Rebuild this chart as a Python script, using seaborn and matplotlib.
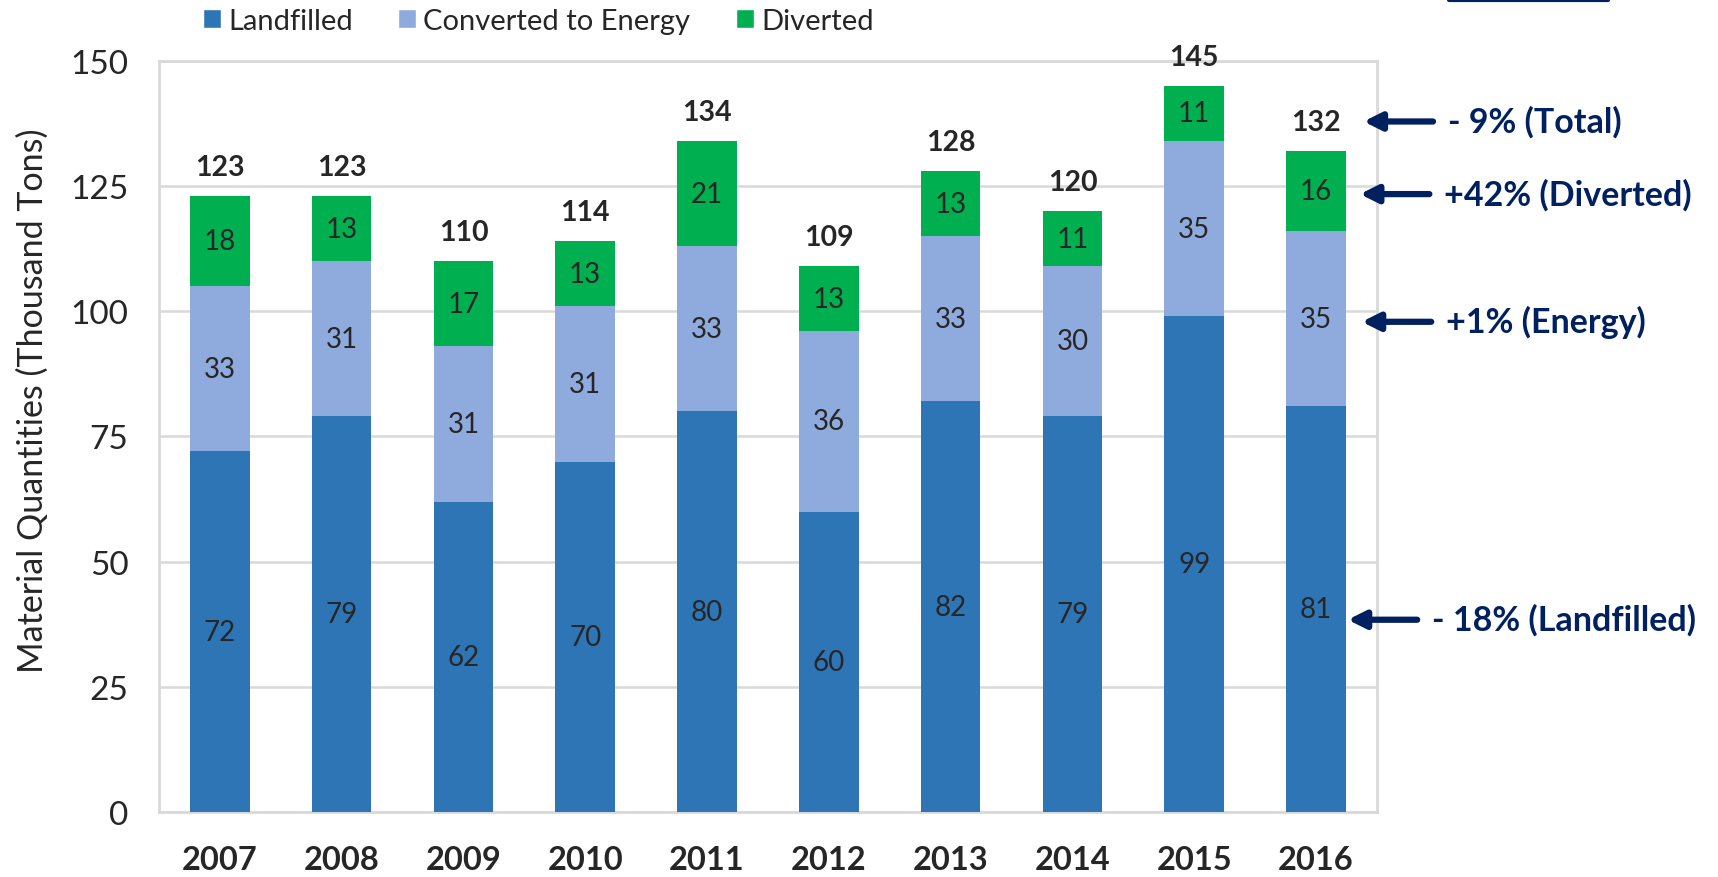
import matplotlib
matplotlib.use("Agg")
import matplotlib.pyplot as plt
import seaborn as sns
import numpy as np
import pandas as pd
from matplotlib.lines import Line2D
from matplotlib.patches import Patch

# ── data ──────────────────────────────────────────────────────
years      = ["2007", "2008", "2009", "2010", "2011", "2012", "2013", "2014", "2015", "2016"]
landfilled = [72, 79, 62, 70, 80, 60, 82, 79, 99, 81]
energy     = [33, 31, 31, 31, 33, 36, 33, 30, 35, 35]
diverted   = [18, 13, 17, 13, 21, 13, 13, 11, 11, 16]
totals     = [123, 123, 110, 114, 134, 109, 128, 120, 145, 132]

changes = ["- 9% (Total)", "+42% (Diverted)", "+1% (Energy)", "- 18% (Landfilled)"]

C_LAND   = "#2E75B6"
C_ENERGY = "#8FAADC"
C_DIV    = "#00B050"
NAVY     = "#002060"
GRID     = "#D9D9D9"

sns.set_theme(style="white")
plt.rcParams["font.family"] = ["Lato", "DejaVu Sans"]

df = pd.DataFrame({"year": years, "land": landfilled, "energy": energy, "div": diverted})
df["le"] = df["land"] + df["energy"]
df["tot"] = df["le"] + df["div"]

fig = plt.figure(figsize=(17.18, 8.78), dpi=100)
ax = fig.add_axes([0.0925, 0.074, 0.709, 0.8555])

# stacked look: draw cumulative heights from the tallest down
W = 0.49
sns.barplot(data=df, x="year", y="tot", color=C_DIV, width=W, saturation=1, linewidth=0, ax=ax, zorder=3)
sns.barplot(data=df, x="year", y="le", color=C_ENERGY, width=W, saturation=1, linewidth=0, ax=ax, zorder=3)
sns.barplot(data=df, x="year", y="land", color=C_LAND, width=W, saturation=1, linewidth=0, ax=ax, zorder=3)

ax.set_xlim(-0.5, 9.5)
ax.set_ylim(0, 150)
ax.set_yticks([0, 25, 50, 75, 100, 125, 150])
ax.yaxis.grid(True, color=GRID, lw=1.8, zorder=0)
ax.set_axisbelow(True)
for s in ax.spines.values():
    s.set_color(GRID); s.set_linewidth(2)
ax.tick_params(axis="y", length=0, pad=22, labelsize=24)
ax.tick_params(axis="x", length=0, pad=24, labelsize=23.5)
for t in ax.get_xticklabels():
    t.set_fontweight("bold")
ax.set_xlabel("")
ax.set_ylabel("Material Quantities (Thousand Tons)", fontsize=24.5)
ax.yaxis.set_label_coords(-0.0905, 0.549)

# segment labels
for i in range(len(years)):
    ax.text(i, landfilled[i] / 2, str(landfilled[i]), ha="center", va="center", fontsize=20, zorder=5)
    ax.text(i, landfilled[i] + energy[i] / 2, str(energy[i]), ha="center", va="center", fontsize=20, zorder=5)
    ax.text(i, landfilled[i] + energy[i] + diverted[i] / 2, str(diverted[i]),
            ha="center", va="center", fontsize=20, zorder=5)
    ax.annotate(str(totals[i]), (i, df["tot"][i]), xytext=(0, 21), textcoords="offset points",
                ha="center", va="center", fontsize=20.5, fontweight="bold", annotation_clip=False)

# change arrows for last year
n = len(years) - 1
arrow_y = [df["tot"][n] + 5.9,
           df["le"][n] + diverted[n] / 2 - 0.6,
           landfilled[n] + energy[n] / 2 - 0.6,
           landfilled[n] / 2 - 2.1]
tips = [9.39, 9.36, 9.375, 9.26]
for txt, yv, tip in zip(changes, arrow_y, tips):
    ax.annotate("", xy=(tip, yv), xytext=(tip + 0.57, yv),
                arrowprops=dict(arrowstyle="-|>", color=NAVY, lw=4.5, mutation_scale=26,
                                shrinkA=0, shrinkB=0),
                annotation_clip=False)
    ax.text(tip + 0.69, yv, txt, ha="left", va="center", fontsize=24.5, fontweight="bold",
            color=NAVY, clip_on=False)

# legend
handles = [Patch(facecolor=C_LAND), Patch(facecolor=C_ENERGY), Patch(facecolor=C_DIV)]
fig.legend(handles, ["Landfilled", "Converted to Energy", "Diverted"],
           loc="center left", bbox_to_anchor=(0.118, 0.975), ncol=3, frameon=False,
           fontsize=21, handlelength=0.62, handleheight=0.62, handletextpad=0.25,
           columnspacing=1.55, borderaxespad=0, borderpad=0)

# cropped box edge at top right
fig.add_artist(Line2D([0.8435, 0.936], [0.999, 0.999], color=NAVY, lw=3, transform=fig.transFigure))

fig.savefig("out.png", dpi=100)
